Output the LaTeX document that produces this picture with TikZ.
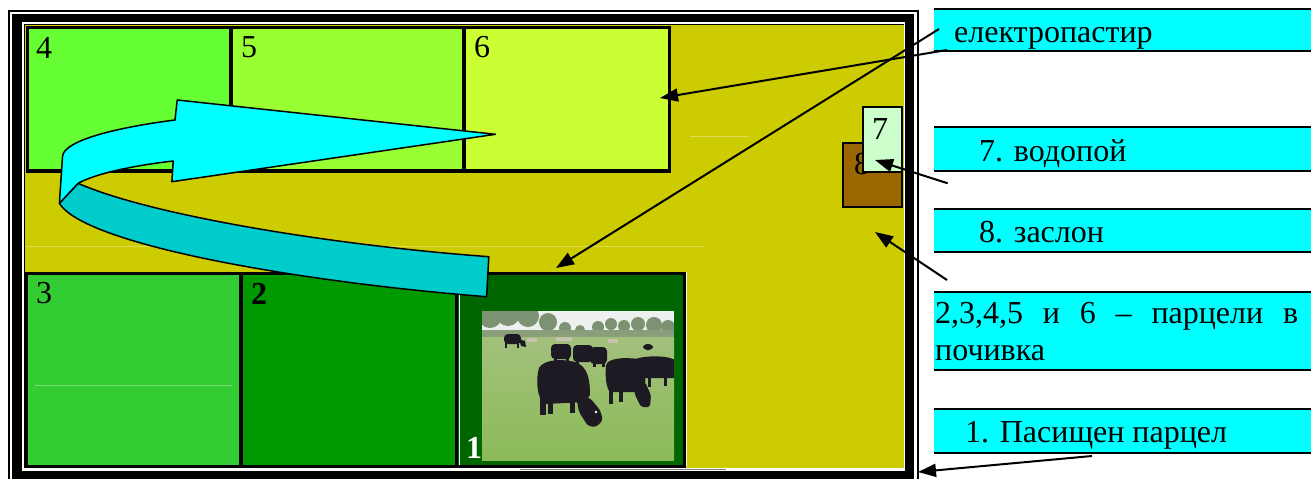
\documentclass[tikz,border=0pt]{standalone}
\usepackage{fontspec}
\setmainfont{Liberation Serif}
\usetikzlibrary{arrows.meta}
\definecolor{field}{HTML}{CCCC00}
\definecolor{pfour}{HTML}{66FF33}
\definecolor{pfive}{HTML}{99FF33}
\definecolor{psix}{HTML}{CCFF33}
\definecolor{pthree}{HTML}{33CC33}
\definecolor{ptwo}{HTML}{009900}
\definecolor{pone}{HTML}{006600}
\definecolor{lcyan}{HTML}{00FFFF}
\definecolor{dcyan}{HTML}{00CCCC}
\definecolor{water}{HTML}{CCFFCC}
\definecolor{gate}{HTML}{996600}
\definecolor{cowc}{HTML}{1E1A24}
\definecolor{skyc}{HTML}{EEF0F0}
\definecolor{treec}{HTML}{7C9272}
\definecolor{treed}{HTML}{8A9E7C}
\definecolor{grassa}{HTML}{A2C07C}
\definecolor{grassb}{HTML}{8CBB58}
\definecolor{beige}{HTML}{C9C4AE}
\begin{document}
\begin{tikzpicture}[x=1pt,y=-1pt,
  plotline/.style={draw=black,line width=3pt},
  divline/.style={draw=black,line width=3.5pt},
  num/.style={font=\fontsize{32}{32}\selectfont, anchor=base west, inner sep=0pt},
  lab/.style={font=\fontsize{32}{38}\selectfont, anchor=base west, inner sep=0pt},
  labbox/.style={fill=lcyan, inner sep=0pt, outer sep=0pt, minimum width=377pt, anchor=north west},
  rule/.style={line width=2pt},
  pointer/.style={line width=2pt, -{Triangle[length=18pt,width=13pt]}},
  faint/.style={white, opacity=0.35, line width=0.8pt},
  cow/.style={fill=cowc, rounded corners=4pt}
]
\fill[white] (0,0) rectangle (1311,479);
\useasboundingbox (0,0) rectangle (1311,479);
% frame
\fill[black] (8,10) rectangle (918.5,479);
\fill[white] (10,12) rectangle (916.5,479);
\fill[black] (12,14) rectangle (914,479);
\fill[white] (22,22) rectangle (905,470.5);
\fill[field] (24.7,25.3) rectangle (903.5,467.7);
\draw[line width=1.2pt] (24.1,467.7) -- (24.1,24.7) -- (903.5,24.7);
\draw[gray, line width=1.5pt] (520,469.5) -- (726,469.5);
% top plots
\fill[pfour] (27,27.5) rectangle (231,171);
\fill[pfive] (231,27.5) rectangle (464,171);
\fill[psix] (464,27.5) rectangle (669,171);
\draw[plotline] (27,27.5) rectangle (669,171);
\draw[divline] (231,27.5) -- (231,171);
\draw[divline] (464,27.5) -- (464,171);
\draw[divline] (27,171) -- (669,171);
% bottom plots
\fill[pthree] (26.5,273) rectangle (241,466);
\fill[ptwo] (241,273) rectangle (457,466);
\fill[pone] (457,273) rectangle (684,466);
\draw[plotline] (26.5,273) rectangle (684,466);
\draw[divline] (241,273) -- (241,466);
\draw[divline] (456.5,273) -- (456.5,466);
\draw[white, line width=1pt] (459.2,274.5) -- (459.2,465);
\draw[white, line width=1pt] (686,272) -- (686,466);
% faint lines
\draw[faint] (26,246.5) -- (704,246.5);
\draw[faint] (690,136) -- (749,136);
\draw[faint] (35,385) -- (232,385);
% photo
\begin{scope}
\clip (482,311) rectangle (674,460);
\fill[skyc] (482,311) rectangle (674,345);
\foreach \cx/\cy/\r in {490/316/12, 508/314/12, 528/316/11, 548/322/9, 565/328/6, 580/330/5, 598/327/6, 611/324/6, 624/326/6, 638/324/7, 654/325/8, 668/327/7}
  \fill[treec] (\cx,\cy) circle[radius=\r];
\fill[treed] (482,330) rectangle (674,340);
\shade[top color=grassa, bottom color=grassb] (482,337) rectangle (674,460);
% distant light cows
\fill[beige] (527,338) rectangle (537,342);
\fill[beige] (556,337) rectangle (572,341);
\fill[beige] (608,339) rectangle (618,343);
% distant dark cows
\fill[cow] (504,334) rectangle (521,344);
\fill[cowc] (505,342) rectangle (507,348); \fill[cowc] (517,342) rectangle (519,348);
\fill[cowc] (519,339) -- (525,341) -- (526,347) -- (521,346) -- cycle;
\fill[cow] (643,344) rectangle (653,350);
% middle cluster
\fill[cow] (551,344) rectangle (571,359);
\fill[cowc] (554,357) rectangle (557,364); \fill[cowc] (566,357) rectangle (569,363);
\fill[cow] (573,345) rectangle (593,362);
\fill[cowc] (576,360) rectangle (579,366);
\fill[cow] (590,347) rectangle (607,364);
\fill[cowc] (593,362) rectangle (596,367); \fill[cowc] (602,362) rectangle (605,367);
% far right cow
\fill[cowc] (631,362) .. controls (635,356) and (660,355) .. (670,358) -- (676,360) -- (676,378) -- (632,378) -- cycle;
\fill[cowc] (638,375) rectangle (642,387); \fill[cowc] (648,375) rectangle (651,387);
\fill[cowc] (664,375) rectangle (667,386);
% right cow
\fill[cowc] (606,366) .. controls (606,358) and (625,357) .. (638,359) .. controls (645,362) and (646,372) .. (645,385) -- (638,392) -- (610,392) .. controls (606,388) and (605,375) .. (606,366) -- cycle;
\fill[cowc] (609,388) rectangle (613,404); \fill[cowc] (619,388) rectangle (623,402);
\fill[cowc, rounded corners=2pt] (633,382) -- (645,382) -- (651,395) -- (650,407) -- (641,407) -- (635,395) -- cycle;
% big cow
\fill[cowc] (538,372) .. controls (538,360) and (560,358) .. (575,362) .. controls (588,366) and (590,380) .. (590,395) -- (585,402) -- (545,404) .. controls (538,400) and (536,385) .. (538,372) -- cycle;
\fill[cowc] (540,398) rectangle (546,415); \fill[cowc] (548,400) rectangle (553,414);
\fill[cowc] (570,400) rectangle (575,413);
\fill[cowc, rounded corners=3pt] (576,396) -- (590,398) -- (600,410) -- (603,420) -- (596,427) -- (588,426) -- (579,412) -- cycle;
\fill[white] (596,412) circle[radius=1.4];
\end{scope}
% plot numbers
\node[num] (n4) at (36,58) {4};
\node[num] (n5) at (241,57) {5};
\node[num] (n6) at (474,57) {6};
\node[num] (n3) at (36,303) {3};
\node[num, font=\fontsize{32}{32}\selectfont\bfseries] (n2) at (251,304) {2};
\node[num, font=\fontsize{32}{32}\selectfont\bfseries, text=white] (n1) at (466,458) {1};
% gate and water
\filldraw[fill=gate, line width=2pt] (843.3,143.3) rectangle (901.7,207.3);
\node[num] (n8) at (854,174) {8};
\filldraw[fill=water, line width=2pt] (863.3,107.3) rectangle (901.7,171.7);
\node[num] (n7) at (872,139.5) {7};
% rotation arrow
\filldraw[fill=dcyan, line width=1.5pt, line join=round] (78.1,183.3) .. controls (150,215) and (330,245) .. (488.8,256.7) -- (486.6,296.7) .. controls (300,282) and (85,245) .. (59.4,203.3) -- cycle;
\filldraw[fill=lcyan, line width=1.5pt, line join=round] (177.2,100) -- (495.5,134.3) -- (171.9,181.7) -- (173.2,161) .. controls (130,166) and (95,174) .. (78.1,183.3) -- (59.4,203.3) -- (62.5,156.7) .. controls (63,140) and (120,127) .. (175,120) -- cycle;
% label boxes
\node[labbox, minimum height=42pt] (b1) at (934,9) {};
\node[labbox, minimum height=43.7pt] (b2) at (934,127) {};
\node[labbox, minimum height=43pt] (b3) at (934,209) {};
\node[labbox, minimum height=78.5pt] (b4) at (934,291.5) {};
\node[labbox, minimum height=43.4pt] (b5) at (934,409.3) {};
\foreach \b in {b1,b2,b3,b4,b5}{
  \draw[rule] (\b.north west) -- (\b.north east);
  \draw[rule] (\b.south west) -- (\b.south east);
}
\node[lab] (t1) at (954,42) {електропастир};
\node[lab] (t2) at (979,161) {7. водопой};
\node[lab] (t3) at (979,242) {8. заслон};
\node[lab] (t4a) at (935,323) {\makebox[363pt][s]{2,3,4,5 и 6 – парцели в}};
\node[lab] (t4b) at (935,360) {почивка};
\node[lab] (t5) at (965,442) {1. Пасищен парцел};
% pointers
\coordinate (e1) at (939,29);
\coordinate (e1t) at (556,268);
\coordinate (e2) at (947,50);
\coordinate (e2t) at (660,98);
\coordinate (w1) at (947.7,183.3);
\coordinate (w1t) at (875,160);
\coordinate (g1) at (947,280);
\coordinate (g1t) at (875,232);
\coordinate (s1) at (1092,456);
\coordinate (s1t) at (918,472);
\draw[pointer] (e1) -- (e1t);
\draw[pointer] (e2) -- (e2t);
\draw[pointer] (w1) -- (w1t);
\draw[pointer] (g1) -- (g1t);
\draw[pointer] (s1) -- (s1t);
\end{tikzpicture}
\end{document}
